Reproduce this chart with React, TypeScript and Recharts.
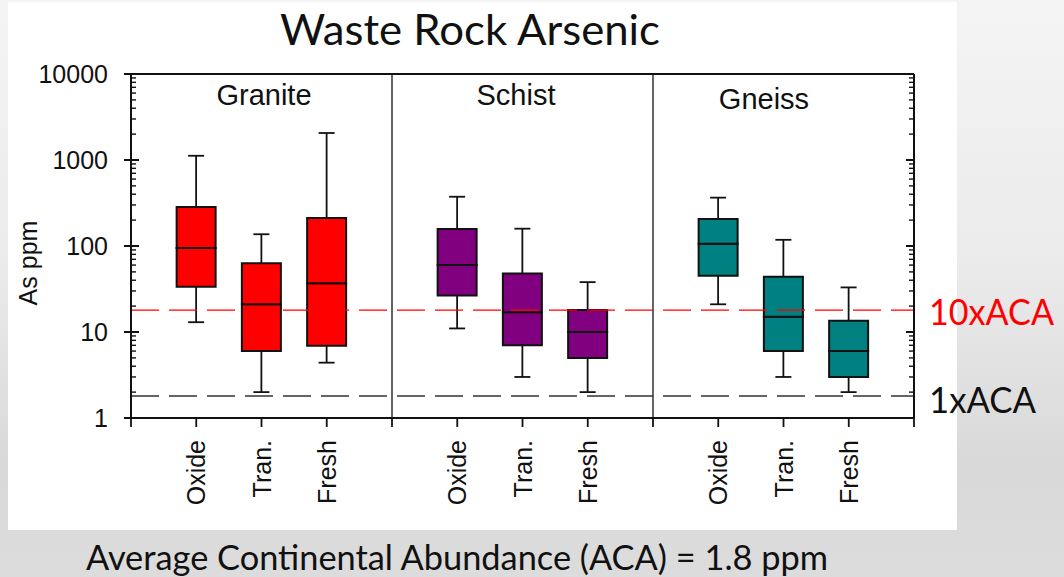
import { ComposedChart, Bar, Cell, XAxis, YAxis, ReferenceLine } from 'recharts';

const rocks = ['Granite', 'Schist', 'Gneiss'];
const zones = ['Oxide', 'Tran.', 'Fresh'];
const rockColors = ['#ff0000', '#800080', '#008080'];

// As (ppm), ordered Granite Oxide/Tran./Fresh, Schist ..., Gneiss ...
const whiskerLow = [13, 2, 4.4, 11, 3, 2, 21, 3, 2];
const quartile1 = [33.5, 6, 6.9, 26.5, 7, 5, 45, 6, 3];
const medians = [95, 21, 37, 60, 17, 10, 106, 15, 6];
const quartile3 = [285, 63, 212, 158, 48, 18, 206, 44, 13.5];
const whiskerHigh = [1120, 137, 2060, 374, 159, 38, 365, 118, 33];

// average continental abundance, ppm
const ACA = 1.8;

const majorTicks = [1, 10, 100, 1000, 10000];
const minorSteps = [2, 3, 4, 5, 6, 7, 8, 9];
const slotTicks = [0, 1, 2, 3, 4, 5, 6, 7, 8, 9, 10, 11, 12];
const dividers = [4, 8];

const yTicks = majorTicks.flatMap((t) =>
  t === 10000 ? [t] : [t, ...minorSteps.map((s) => s * t)]
);

// each rock gets 3 slots, with an empty slot between groups
const rows = medians.map((m, i) => {
  const g = Math.floor(i / 3);
  const z = i % 3;
  return {
    slot: g * 4 + z + 1,
    color: rockColors[g],
    lowWhisker: [whiskerLow[i], quartile1[i]],
    lowerBox: [quartile1[i], m],
    upperBox: [m, quartile3[i]],
    highWhisker: [quartile3[i], whiskerHigh[i]],
  };
});

const slotLabel = (k: number) => (k % 4 === 0 ? '' : zones[(k % 4) - 1]);

const INK = '#111';
const ARIAL = '"Liberation Sans", Arial, sans-serif';
const SLIDE = 'Lato, "Open Sans", sans-serif';
const BOX_W = 39;

const whiskerShape = (capAtTop: boolean) => (props: any) => {
  const { x, y, width, height } = props;
  const cx = x + width / 2;
  const top = Math.min(y, y + height);
  const bottom = Math.max(y, y + height);
  const capY = capAtTop ? top : bottom;
  return (
    <g>
      <line x1={cx} x2={cx} y1={top} y2={bottom} stroke={INK} strokeWidth={1.8} />
      <line x1={cx - 8} x2={cx + 8} y1={capY} y2={capY} stroke={INK} strokeWidth={1.8} />
    </g>
  );
};

const LeftTick = (props: any) => {
  const { x, y, payload } = props;
  const major = majorTicks.includes(payload.value);
  return (
    <g>
      <line
        x1={major ? x - 7 : x}
        x2={major ? x + 8 : x + 5}
        y1={y}
        y2={y}
        stroke={INK}
        strokeWidth={major ? 2 : 1.4}
      />
      {major && (
        <text x={x - 23} y={y} dy="0.36em" textAnchor="end" fontSize={25} fontFamily={ARIAL} fill={INK}>
          {payload.value}
        </text>
      )}
    </g>
  );
};

const RightTick = (props: any) => {
  const { x, y, payload } = props;
  const major = majorTicks.includes(payload.value);
  return (
    <line x1={x} x2={x - (major ? 8 : 5)} y1={y} y2={y} stroke={INK} strokeWidth={major ? 2 : 1.4} />
  );
};

const SlotTick = (props: any) => {
  const { x, y, payload } = props;
  const label = slotLabel(payload.value);
  const tx = x + 9;
  const ty = y + 22;
  return (
    <g>
      <line x1={x} x2={x} y1={y} y2={y + 9} stroke={INK} strokeWidth={1.8} />
      {label && (
        <text
          x={tx}
          y={ty}
          transform={`rotate(-90, ${tx}, ${ty})`}
          textAnchor="end"
          fontSize={25}
          fontFamily={ARIAL}
          fill={INK}
        >
          {label}
        </text>
      )}
    </g>
  );
};

const acaLabel = (text: string, color: string, size: number, len: number, dy: number) => (p: any) => {
  const vb = p.viewBox || {};
  return (
    <text
      x={vb.x + vb.width + 15}
      y={vb.y + dy}
      fontSize={size}
      fontFamily={SLIDE}
      fill={color}
      textLength={len}
      lengthAdjust="spacingAndGlyphs"
    >
      {text}
    </text>
  );
};

// extra x axes so the four box parts overlap instead of sitting side by side
const hiddenAxis = (id: string) => (
  <XAxis
    key={id}
    xAxisId={id}
    orientation="top"
    type="number"
    dataKey="slot"
    domain={[0, 12]}
    ticks={slotTicks}
    height={0}
    hide
  />
);

const panelLabels = [
  { text: rocks[0], x: 264, y: 105 },
  { text: rocks[1], x: 516, y: 105 },
  { text: rocks[2], x: 764, y: 109 },
];

export default function App() {
  return (
    <div
      style={{
        position: 'fixed',
        left: 0,
        top: 0,
        width: 1064,
        height: 577,
        overflow: 'hidden',
        background: 'linear-gradient(180deg, #f4f4f4 0%, #ebebeb 45%, #d9d9d9 80%, #dcdcdc 100%)',
      }}
    >
      <div style={{ position: 'absolute', left: 8, top: 2, width: 949, height: 528, background: '#fff' }} />
      <div style={{ position: 'absolute', left: 0, top: 0 }}>
        <ComposedChart
          width={1064}
          height={577}
          data={rows}
          margin={{ top: 74, right: 149, bottom: 158, left: 130 }}
        >
          <XAxis
            xAxisId="slots"
            type="number"
            dataKey="slot"
            domain={[0, 12]}
            ticks={slotTicks}
            interval={0}
            height={1}
            tickSize={0}
            tickMargin={0}
            tickLine={false}
            axisLine={{ stroke: INK, strokeWidth: 2 }}
            tick={(p: any) => <SlotTick {...p} />}
          />
          {hiddenAxis('lw')}
          {hiddenAxis('lb')}
          {hiddenAxis('ub')}
          {hiddenAxis('hw')}
          <YAxis
            type="number"
            scale="log"
            domain={[1, 10000]}
            allowDataOverflow
            ticks={yTicks}
            interval={0}
            width={1}
            tickSize={0}
            tickMargin={0}
            tickLine={false}
            axisLine={{ stroke: INK, strokeWidth: 2 }}
            tick={(p: any) => <LeftTick {...p} />}
          />
          <YAxis
            yAxisId="right"
            orientation="right"
            type="number"
            scale="log"
            domain={[1, 10000]}
            allowDataOverflow
            ticks={yTicks}
            interval={0}
            width={1}
            tickSize={0}
            tickMargin={0}
            tickLine={false}
            axisLine={{ stroke: INK, strokeWidth: 2 }}
            tick={(p: any) => <RightTick {...p} />}
          />

          <ReferenceLine xAxisId="slots" y={10000} stroke={INK} strokeWidth={2} />
          {dividers.map((d) => (
            <ReferenceLine key={d} xAxisId="slots" x={d} stroke={INK} strokeWidth={1.3} />
          ))}

          <Bar
            xAxisId="lw"
            dataKey="lowWhisker"
            barSize={BOX_W}
            isAnimationActive={false}
            shape={whiskerShape(false)}
          />
          <Bar
            xAxisId="hw"
            dataKey="highWhisker"
            barSize={BOX_W}
            isAnimationActive={false}
            shape={whiskerShape(true)}
          />
          <Bar
            xAxisId="lb"
            dataKey="lowerBox"
            barSize={BOX_W}
            stroke={INK}
            strokeWidth={2}
            isAnimationActive={false}
          >
            {rows.map((r) => (
              <Cell key={r.slot} fill={r.color} />
            ))}
          </Bar>
          <Bar
            xAxisId="ub"
            dataKey="upperBox"
            barSize={BOX_W}
            stroke={INK}
            strokeWidth={2}
            isAnimationActive={false}
          >
            {rows.map((r) => (
              <Cell key={r.slot} fill={r.color} />
            ))}
          </Bar>

          <ReferenceLine
            xAxisId="slots"
            y={ACA * 10}
            stroke="#ff0000"
            strokeWidth={1.2}
            strokeDasharray="28 10"
            label={acaLabel('10xACA', '#ff0000', 37, 125, 15)}
          />
          <ReferenceLine
            xAxisId="slots"
            y={ACA}
            stroke="#333"
            strokeWidth={1.4}
            strokeDasharray="28 10"
            label={acaLabel('1xACA', '#111', 36, 107, 17)}
          />
        </ComposedChart>
      </div>
      <svg
        width={1064}
        height={577}
        style={{ position: 'absolute', left: 0, top: 0, pointerEvents: 'none' }}
      >
        <text
          x={470}
          y={45}
          textAnchor="middle"
          fontSize={43}
          fontFamily={SLIDE}
          fill="#111"
          textLength={380}
          lengthAdjust="spacingAndGlyphs"
        >
          Waste Rock Arsenic
        </text>
        {panelLabels.map((l) => (
          <text key={l.text} x={l.x} y={l.y} textAnchor="middle" fontSize={29} fontFamily={ARIAL} fill={INK}>
            {l.text}
          </text>
        ))}
        <text
          x={37}
          y={263}
          transform="rotate(-90, 37, 263)"
          textAnchor="middle"
          fontSize={25}
          fontFamily={ARIAL}
          fill={INK}
        >
          As ppm
        </text>
        <text
          x={86}
          y={570}
          fontSize={34}
          fontFamily={SLIDE}
          fill="#111"
          textLength={742}
          lengthAdjust="spacingAndGlyphs"
        >
          Average Continental Abundance (ACA) = 1.8 ppm
        </text>
      </svg>
    </div>
  );
}
